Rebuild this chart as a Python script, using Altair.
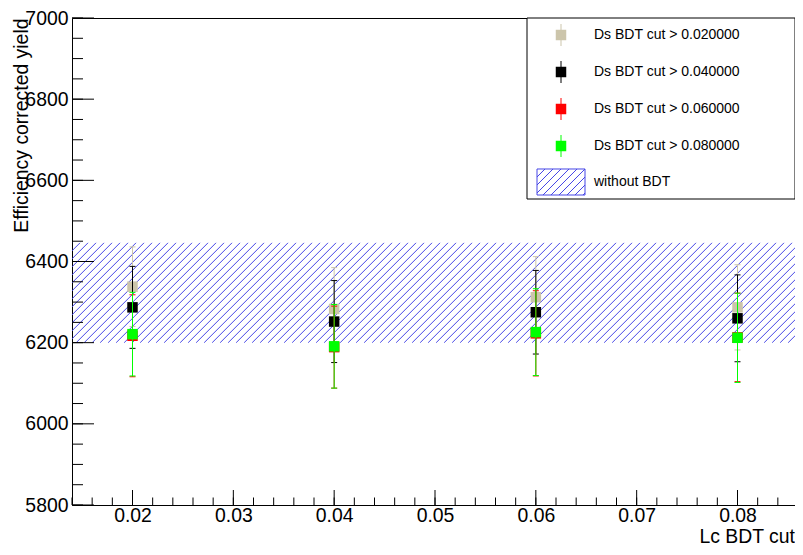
import altair as alt
import pandas as pd
import numpy as np

# ---------------- data ----------------
lc_cuts = [0.02, 0.04, 0.06, 0.08]
series_labels = [
    "Ds BDT cut > 0.020000",
    "Ds BDT cut > 0.040000",
    "Ds BDT cut > 0.060000",
    "Ds BDT cut > 0.080000",
]
series_colors = ["#ccc5ab", "#000000", "#ff0000", "#00ff00"]

yield_ds002 = [6338, 6283, 6312, 6287]
err_ds002 = [98, 102, 100, 105]
yield_ds004 = [6287, 6252, 6275, 6260]
err_ds004 = [101, 101, 103, 107]
yield_ds006 = [6217, 6189, 6223, 6213]
err_ds006 = [101, 101, 105, 109]
yield_ds008 = [6221, 6191, 6226, 6212]
err_ds008 = [103, 103, 107, 110]

band_low = 6200      # "without BDT" band
band_high = 6446
band_label = "without BDT"

x_major_ticks = [0.02, 0.03, 0.04, 0.05, 0.06, 0.07, 0.08]
y_major_ticks = [5800, 6000, 6200, 6400, 6600, 6800, 7000]
x_title = "Lc BDT cut"
y_title = "Efficiency corrected yield"

# ---------------- layout / style ----------------
W, H = 723, 487
PAD_TOP = 10
PX_PER_UNIT = 605 / 0.06
X_MIN = 0.014
X_MAX = X_MIN + W / PX_PER_UNIT
Y_MIN, Y_MAX = 5800, 7000
FONT = "Liberation Sans"
HATCH_COLOR = "#4646e6"
HATCH_STEP = 8

x_minor_ticks = [round(v, 4) for v in np.arange(0.014, X_MAX, 0.002)]
y_minor_ticks = list(range(5800, 7001, 50))

rows = []
for lab, ys, es in zip(series_labels,
                       [yield_ds002, yield_ds004, yield_ds006, yield_ds008],
                       [err_ds002, err_ds004, err_ds006, err_ds008]):
    for x, y, e in zip(lc_cuts, ys, es):
        rows.append({"series": lab, "x": x, "y": y, "lo": y - e, "hi": y + e})
df = pd.DataFrame(rows)

xscale = alt.Scale(domain=[X_MIN, X_MAX], nice=False, zero=False)
yscale = alt.Scale(domain=[Y_MIN, Y_MAX], nice=False, zero=False)
cscale = alt.Scale(domain=series_labels, range=series_colors)

xaxis = alt.Axis(values=x_major_ticks, format=".2f", ticks=False, domain=False, grid=False,
                 labelFont=FONT, labelFontSize=19.4, labelColor="black", labelPadding=1,
                 labelFlush=False, labelOverlap=False, title=None)
yaxis = alt.Axis(values=y_major_ticks, format="d", ticks=False, domain=False, grid=False,
                 labelFont=FONT, labelFontSize=19.4, labelColor="black", labelPadding=4,
                 labelFlush=False, labelOverlap=False,
                 titleFont=FONT, titleFontSize=19.4, titleFontWeight="normal", titleColor="black",
                 titleX=-51, titleY=0, titleAlign="right", titleBaseline="middle", titleAngle=270)


def xenc(field):
    return alt.X(field, type="quantitative", scale=xscale, axis=xaxis)


def yenc(field):
    return alt.Y(field, type="quantitative", scale=yscale, axis=yaxis, title=y_title)


cenc = alt.Color("series:N", scale=cscale, legend=None)

layers = []

# hatched band (without BDT)
band_px = H * (band_high - band_low) / (Y_MAX - Y_MIN)
dx = 1 / PX_PER_UNIT
n_lines = int((W + band_px) / HATCH_STEP) + 3
hatch = alt.Chart(alt.sequence(0, n_lines, as_="i")).transform_calculate(
    hx=f"{X_MIN} + (datum.i*{HATCH_STEP} - {band_px})*{dx}",
    hx2=f"{X_MIN} + (datum.i*{HATCH_STEP})*{dx}",
    blo=f"{band_low}",
    bhi=f"{band_high}",
).mark_rule(clip=True, strokeWidth=1).encode(
    x=xenc("hx"), x2="hx2:Q", y=yenc("blo"), y2="bhi:Q",
    color=alt.value(HATCH_COLOR), opacity=alt.value(1),
)
layers.append(hatch)

# axis ticks (ROOT style, pointing inward)
ymaj = alt.Chart(pd.DataFrame({"v": y_major_ticks})).mark_rule(color="black", strokeWidth=1).encode(
    y=yenc("v"), x=alt.value(0), x2=alt.value(22))
ymin = alt.Chart(pd.DataFrame({"v": y_minor_ticks})).mark_rule(color="black", strokeWidth=1).encode(
    y=yenc("v"), x=alt.value(0), x2=alt.value(11))
xmaj = alt.Chart(pd.DataFrame({"v": x_major_ticks})).mark_rule(color="black", strokeWidth=1).encode(
    x=xenc("v"), y=alt.value(H), y2=alt.value(H - 15))
xmin = alt.Chart(pd.DataFrame({"v": x_minor_ticks})).mark_rule(color="black", strokeWidth=1).encode(
    x=xenc("v"), y=alt.value(H), y2=alt.value(H - 7.5))
layers += [ymaj, ymin, xmaj, xmin]

# data series, drawn graph by graph
for lab in series_labels:
    base = alt.Chart(df).transform_filter(alt.datum.series == lab)
    bar = base.mark_rule(strokeWidth=1).encode(x=xenc("x"), y=yenc("lo"), y2="hi:Q", color=cenc)
    cap_hi = base.mark_tick(size=6, thickness=1, orient="horizontal", opacity=1).encode(
        x=xenc("x"), y=yenc("hi"), color=cenc)
    cap_lo = base.mark_tick(size=6, thickness=1, orient="horizontal", opacity=1).encode(
        x=xenc("x"), y=yenc("lo"), color=cenc)
    pts = base.mark_square(size=110, opacity=1).encode(x=xenc("x"), y=yenc("y"), color=cenc)
    layers += [bar, cap_hi, cap_lo, pts]

# x axis title, ROOT style (right-aligned under the axis end)
xtitle = alt.Chart(alt.Data(values=[{"t": x_title}])).mark_text(
    align="right", baseline="middle", font=FONT, fontSize=19.4, color="black"
).encode(x=alt.value(W), y=alt.value(H + 32), text="t:N")
layers.append(xtitle)

# legend (ROOT TLegend style)
LX0 = 455
MX, TX = 489, 522
ROW0, ROWSTEP = 17, 37
LY1 = ROW0 + ROWSTEP * 4 + 16
box = alt.Chart(alt.Data(values=[{}])).mark_rect(fill="white", stroke="black", strokeWidth=1).encode(
    x=alt.value(LX0), x2=alt.value(W), y=alt.value(0), y2=alt.value(LY1))
leg_df = pd.DataFrame({"series": series_labels, "idx": list(range(len(series_labels)))})
leg = alt.Chart(leg_df).transform_calculate(
    ly=f"{ROW0} + {ROWSTEP}*datum.idx",
    lyt=f"{ROW0} + {ROWSTEP}*datum.idx - 11",
    lyb=f"{ROW0} + {ROWSTEP}*datum.idx + 11",
)
leg_line = leg.mark_rule(strokeWidth=1).encode(
    x=alt.value(MX), y=alt.Y("lyt:Q", scale=None), y2="lyb:Q", color=cenc)
leg_sq = leg.mark_square(size=110, opacity=1).encode(
    x=alt.value(MX), y=alt.Y("ly:Q", scale=None), color=cenc)
leg_txt = leg.mark_text(align="left", baseline="middle", font=FONT, fontSize=14, color="black").encode(
    x=alt.value(TX), y=alt.Y("ly:Q", scale=None), text="series:N")

# hatched swatch as a custom symbol path (48 x 26 px box)
hw = 26 / 48
segs = [f"M-1,{-hw:.3f}H1V{hw:.3f}H-1Z"]
step = 2 * HATCH_STEP / 48
k = 0
while True:
    x0 = -1 - 2 * hw + k * step
    if x0 > 1:
        break
    t0 = max(0.0, -1 - x0)
    t1 = min(2 * hw, 1 - x0)
    if t1 > t0:
        segs.append(f"M{x0 + t0:.3f},{hw - t0:.3f}L{x0 + t1:.3f},{hw - t1:.3f}")
    k += 1
swatch_path = "".join(segs)
band_row = ROW0 + ROWSTEP * len(series_labels) - 1
swatch = alt.Chart(alt.Data(values=[{"label": band_label}])).mark_point(
    shape=swatch_path, size=48 * 48, filled=False, stroke=HATCH_COLOR, strokeWidth=1, opacity=1
).encode(x=alt.value(MX), y=alt.value(band_row))
swatch_txt = alt.Chart(alt.Data(values=[{"label": band_label}])).mark_text(
    align="left", baseline="middle", font=FONT, fontSize=14, color="black"
).encode(x=alt.value(TX), y=alt.value(band_row), text="label:N")

layers += [box, leg_line, leg_sq, leg_txt, swatch, swatch_txt]

chart = alt.layer(*layers).properties(
    width=W, height=H,
    autosize=alt.AutoSizeParams(type="none"),
    padding={"left": 64, "top": PAD_TOP, "right": 0, "bottom": 539 - PAD_TOP - H},
    background="white",
).configure_view(stroke="black", strokeWidth=1)

chart.save("out.html", embed_options={"renderer": "svg", "actions": False})
